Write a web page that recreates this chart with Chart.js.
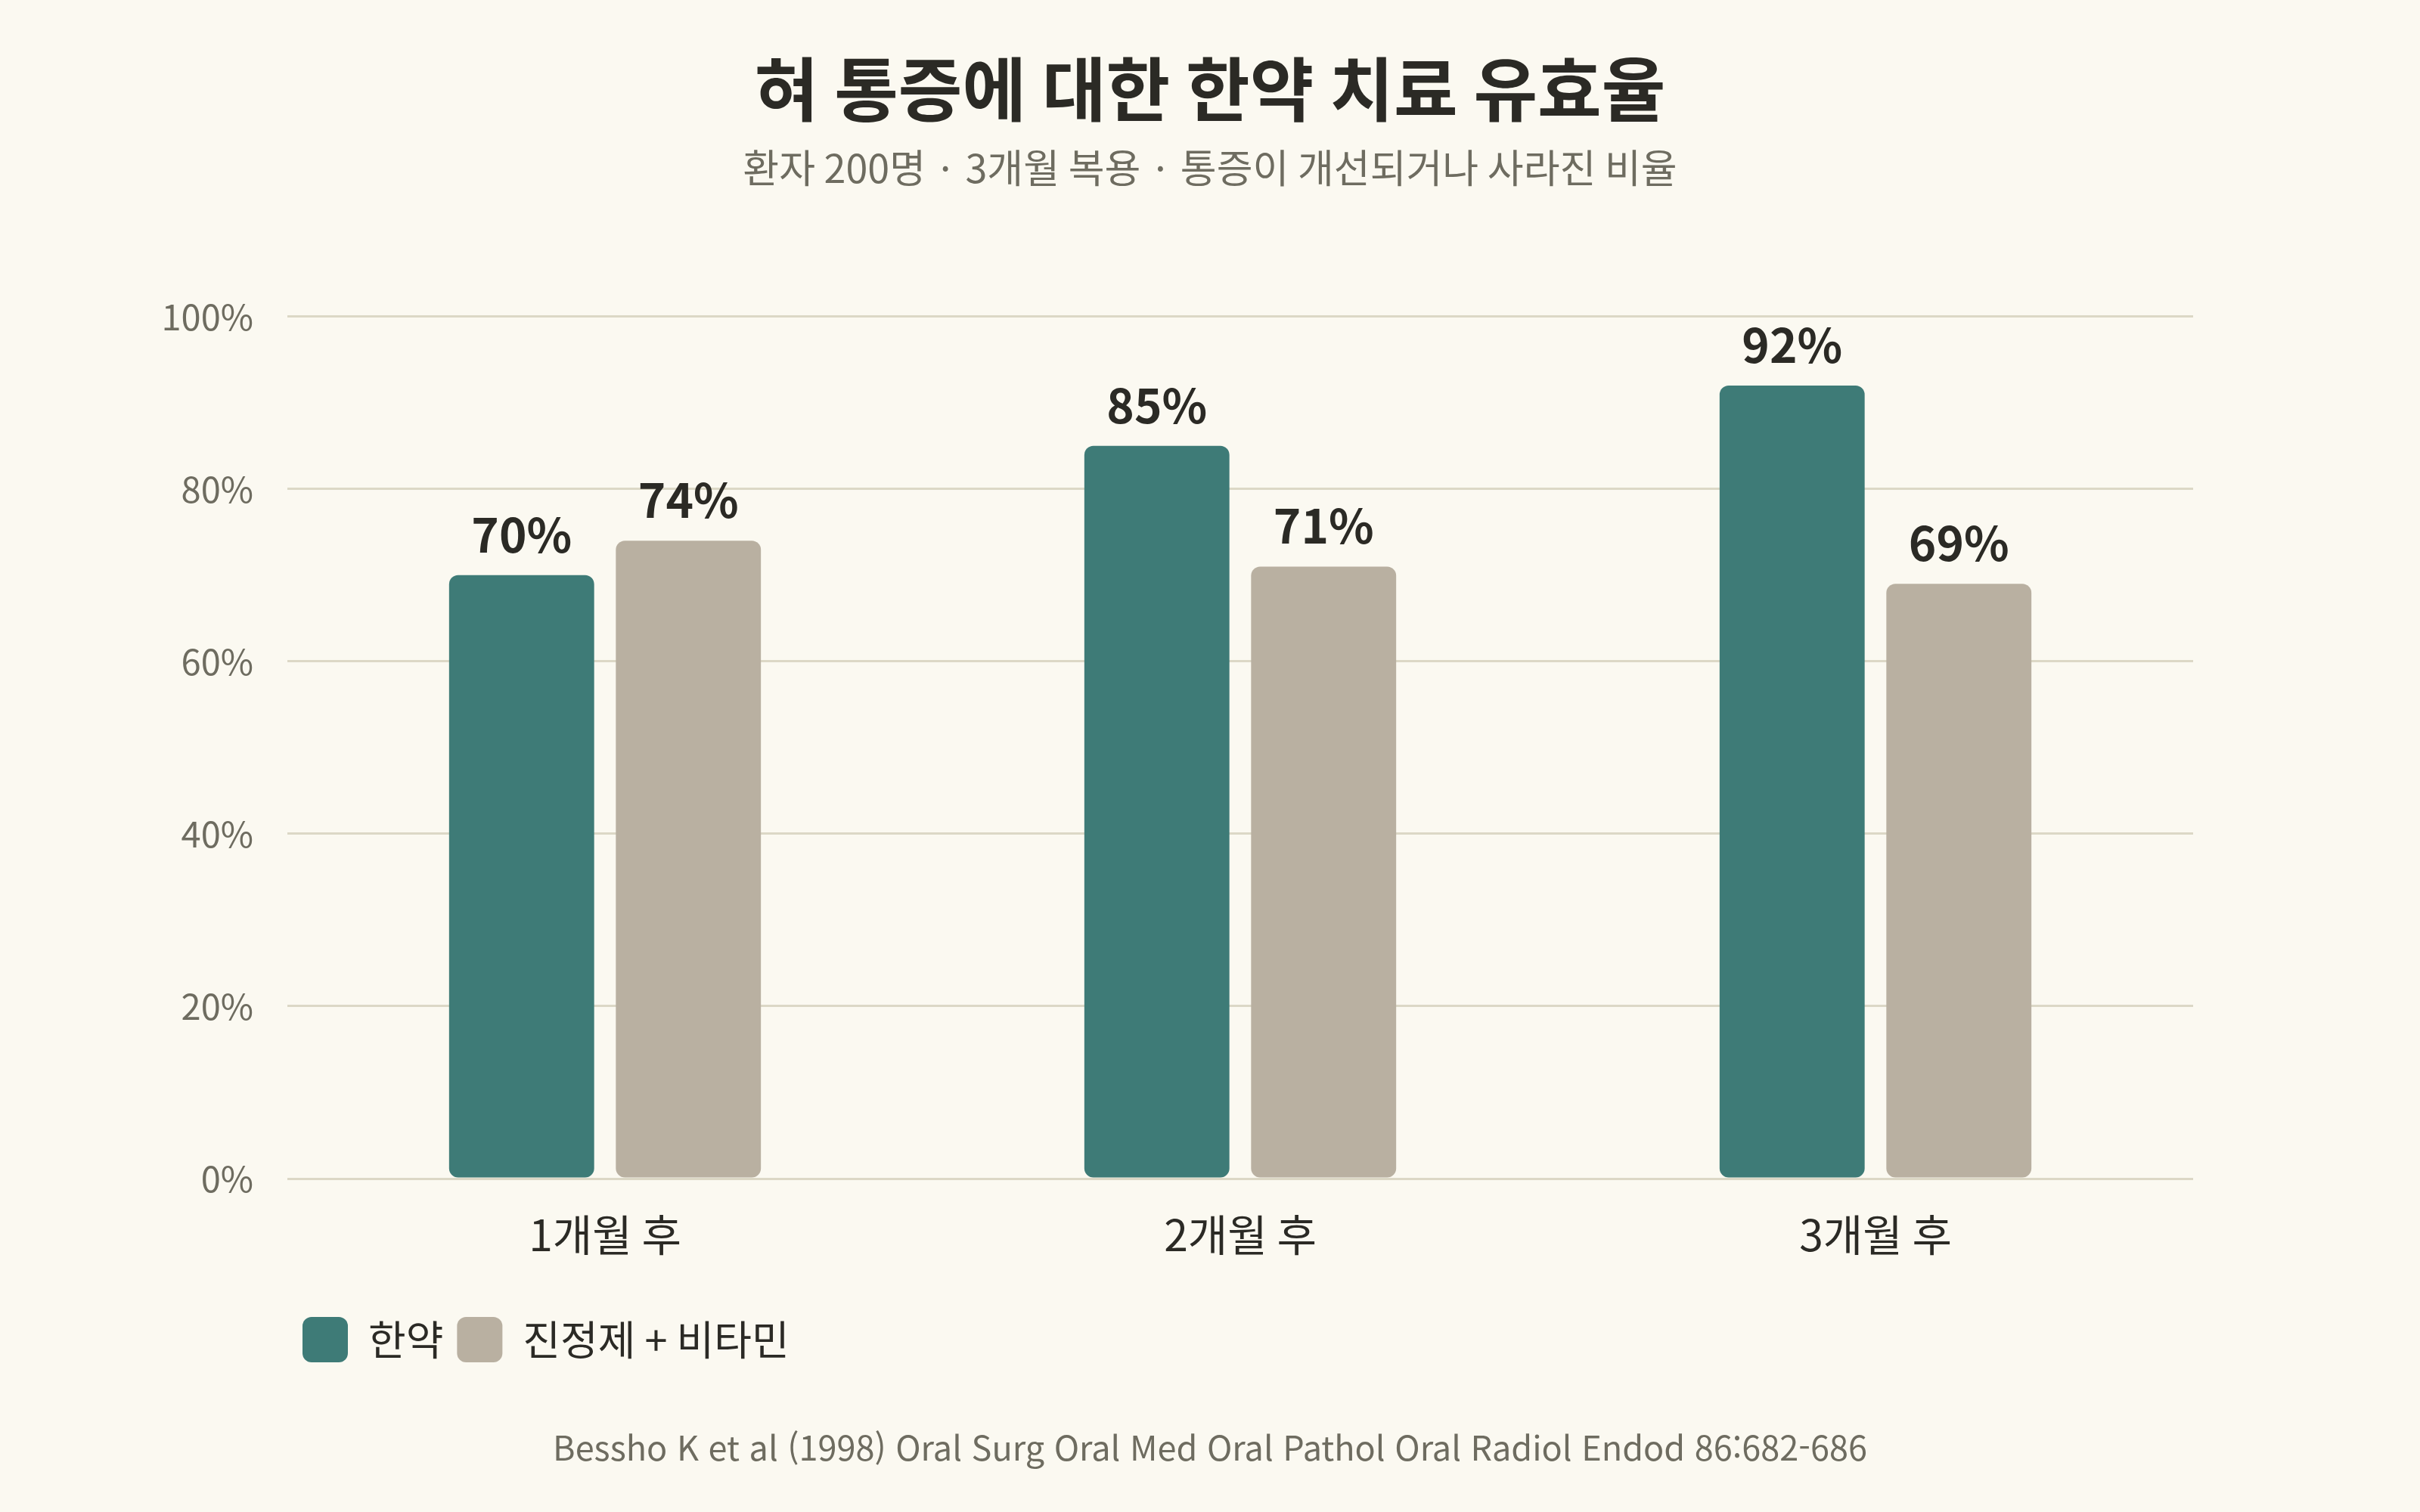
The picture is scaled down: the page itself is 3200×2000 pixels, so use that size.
<!DOCTYPE html>
<html lang="ko">

<head>
    <meta charset="UTF-8">
    <title>혀 통증에 대한 한약 치료 유효율</title>
    <style>
        html, body { margin: 0; padding: 0; background: #fbf9f1; }
        #wrap { width: 3200px; height: 2000px; }
    </style>
    <script src="https://cdn.jsdelivr.net/npm/chart.js"></script>
</head>

<body>
    <div id="wrap"><canvas id="effChart" width="3200" height="2000"></canvas></div>

    <script>
        // data
        const categories = ['1개월 후', '2개월 후', '3개월 후'];
        const herbal = [70, 85, 92];
        const sedativeVitamin = [74, 71, 69];
        const seriesNames = ['한약', '진정제 + 비타민'];
        const yTicks = [0, 20, 40, 60, 80, 100];
        const sourceNote = 'Bessho K et al (1998) Oral Surg Oral Med Oral Pathol Oral Radiol Endod 86:682-686';

        const FONT = "'Noto Sans CJK KR', 'Noto Sans', sans-serif";
        const DARK = '#2b2a25';
        const MUTED = '#6e6c60';

        // value labels above every bar
        const barLabels = {
            id: 'barLabels',
            afterDatasetsDraw(chart) {
                const ctx = chart.ctx;
                ctx.save();
                ctx.font = 'bold 62px ' + FONT;
                ctx.fillStyle = DARK;
                ctx.textAlign = 'center';
                ctx.textBaseline = 'alphabetic';
                chart.data.datasets.forEach((ds, i) => {
                    chart.getDatasetMeta(i).data.forEach((bar, j) => {
                        ctx.fillText(ds.data[j] + '%', bar.x, bar.y - 30);
                    });
                });
                ctx.restore();
            }
        };

        // source line under the legend + legend pushed in to line up with plot
        const footer = {
            id: 'footer',
            afterLayout(chart) {
                chart.legend.left = 382;
            },
            afterDraw(chart) {
                const ctx = chart.ctx;
                ctx.save();
                ctx.font = '45px ' + FONT;
                ctx.fillStyle = MUTED;
                ctx.textAlign = 'center';
                ctx.textBaseline = 'middle';
                ctx.fillText(sourceNote, chart.width / 2, 1915);
                ctx.restore();
            }
        };

        Chart.defaults.devicePixelRatio = 1;

        new Chart(document.getElementById('effChart'), {
            type: 'bar',
            data: {
                labels: categories,
                datasets: [{
                    label: seriesNames[0],
                    data: herbal,
                    backgroundColor: '#3e7b77',
                    borderWidth: 0,
                    borderRadius: 12,
                    borderSkipped: false
                }, {
                    label: seriesNames[1],
                    data: sedativeVitamin,
                    backgroundColor: '#b9b0a1',
                    borderWidth: 0,
                    borderRadius: 12,
                    borderSkipped: false
                }]
            },
            options: {
                responsive: false,
                animation: false,
                categoryPercentage: 0.525,
                barPercentage: 0.87,
                layout: { padding: { left: 0, right: 0, top: 0, bottom: 188 } },
                plugins: {
                    title: {
                        display: true,
                        text: '혀 통증에 대한 한약 치료 유효율',
                        color: DARK,
                        font: { family: FONT, size: 92, weight: 'bold', lineHeight: 1.2 },
                        padding: { top: 63, bottom: 18 }
                    },
                    subtitle: {
                        display: true,
                        text: '환자 200명 · 3개월 복용 · 통증이 개선되거나 사라진 비율',
                        color: MUTED,
                        font: { family: FONT, size: 52, lineHeight: 1.2 },
                        padding: { top: 0, bottom: 165 }
                    },
                    legend: {
                        position: 'bottom',
                        align: 'start',
                        labels: {
                            color: DARK,
                            font: { family: FONT, size: 54 },
                            boxWidth: 60,
                            boxHeight: 60,
                            useBorderRadius: true,
                            borderRadius: 12,
                            padding: 18
                        }
                    },
                    tooltip: { enabled: false }
                },
                scales: {
                    x: {
                        grid: { display: false, drawTicks: false },
                        border: { display: false },
                        ticks: {
                            color: DARK,
                            font: { family: FONT, size: 57 },
                            padding: 40
                        },
                        afterFit(scale) { scale.height = 165; }
                    },
                    y: {
                        min: 0,
                        max: 100,
                        afterBuildTicks(scale) {
                            scale.ticks = yTicks.map(v => ({ value: v }));
                        },
                        grid: { color: '#dcd8c6', lineWidth: 3, drawTicks: false },
                        border: { display: false },
                        ticks: {
                            color: MUTED,
                            font: { family: FONT, size: 47 },
                            padding: 45,
                            callback: v => v + '%'
                        },
                        afterFit(scale) { scale.width = 380; }
                    },
                    pad: {
                        type: 'linear',
                        position: 'right',
                        grid: { display: false },
                        border: { display: false },
                        ticks: { display: false },
                        afterFit(scale) { scale.width = 300; }
                    }
                }
            },
            plugins: [barLabels, footer]
        });
    </script>
</body>

</html>
